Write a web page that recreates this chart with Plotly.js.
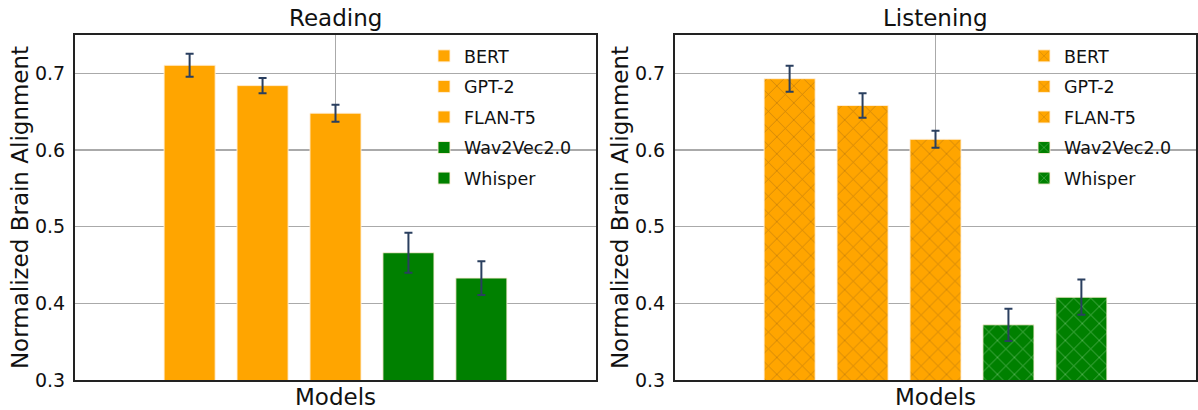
<!DOCTYPE html>
<html>
<head>
<meta charset="utf-8">
<script src="https://cdn.plot.ly/plotly-3.0.1.min.js"></script>
<style>html,body{margin:0;padding:0;background:#fff;}#chart{width:1198px;height:410px;}</style>
</head>
<body>
<div id="chart"></div>
<script>
const models = ['BERT', 'GPT-2', 'FLAN-T5', 'Wav2Vec2.0', 'Whisper'];
const category = ['Models'];
const readingMeans = [0.7105, 0.684, 0.648, 0.466, 0.433];
const readingErr = [0.015, 0.010, 0.011, 0.026, 0.022];
const listeningMeans = [0.693, 0.658, 0.614, 0.372, 0.408];
const listeningErr = [0.017, 0.016, 0.011, 0.021, 0.023];
const barColors = ['#FFA500', '#FFA500', '#FFA500', '#008000', '#008000'];
const hatchColors = ['rgba(150,95,20,0.55)', 'rgba(150,95,20,0.55)', 'rgba(150,95,20,0.55)', 'rgba(140,210,140,0.7)', 'rgba(140,210,140,0.7)'];
const panelTitles = ['Reading', 'Listening'];

const FONT = 'DejaVu Sans, sans-serif';
const traces = [];
models.forEach((m, i) => {
  traces.push({
    type: 'bar', name: m, x: category, y: [readingMeans[i]],
    xaxis: 'x', yaxis: 'y', legend: 'legend', offsetgroup: 'r' + i, legendgroup: 'r' + i,
    marker: {color: barColors[i], line: {color: 'rgba(255,240,220,0.9)', width: 1}},
    error_y: {type: 'data', array: [readingErr[i]], visible: true, color: '#2a3f5f', thickness: 2, width: 4}
  });
});
models.forEach((m, i) => {
  traces.push({
    type: 'bar', name: m, x: category, y: [listeningMeans[i]],
    xaxis: 'x2', yaxis: 'y2', legend: 'legend2', offsetgroup: 'l' + i, legendgroup: 'l' + i,
    marker: {color: barColors[i], line: {color: 'rgba(255,240,220,0.9)', width: 1},
      pattern: {shape: 'x', fgcolor: hatchColors[i], bgcolor: barColors[i], size: 12, solidity: 0.12}},
    error_y: {type: 'data', array: [listeningErr[i]], visible: true, color: '#2a3f5f', thickness: 2, width: 4}
  });
});

const W = 1198, H = 410;
const yDom = [1 - 380 / H, 1 - 35 / H];
function xa(dom, anchor) {
  return {domain: dom, anchor: anchor, type: 'category', range: [-0.5, 0.5],
    showline: true, mirror: true, linecolor: '#222', linewidth: 2,
    showgrid: true, gridcolor: '#aaaaaa', gridwidth: 1.5, showticklabels: false, ticks: '',
    zeroline: false, automargin: false,
    title: {text: 'Models', font: {family: FONT, size: 23, color: '#111'}, standoff: 8}};
}
function ya(anchor) {
  return {domain: yDom, anchor: anchor, range: [0.3, 0.75], dtick: 0.1, tick0: 0.3, tickformat: '.1f',
    showline: true, mirror: true, linecolor: '#222', linewidth: 2,
    showgrid: true, gridcolor: '#aaaaaa', gridwidth: 1.5, zeroline: false, ticks: '',
    ticklabelstandoff: 4, tickfont: {family: FONT, size: 19, color: '#111'}, automargin: false,
    title: {text: 'Normalized Brain Alignment', font: {family: FONT, size: 23, color: '#111'}, standoff: 0}};
}
function leg(x) {
  return {x: x, y: 1 - 38 / H, xanchor: 'left', yanchor: 'top', bgcolor: 'rgba(0,0,0,0)',
    font: {family: FONT, size: 17.5, color: '#111'}, tracegroupgap: 4.8, traceorder: 'grouped'};
}
const layout = {
  width: W, height: H, margin: {l: 0, r: 0, t: 0, b: 0},
  paper_bgcolor: '#fff', plot_bgcolor: '#fff',
  barmode: 'group', bargap: 0.3, bargroupgap: 0.3,
  font: {family: FONT, color: '#111'},
  xaxis: xa([75 / W, 596 / W], 'y'), yaxis: ya('x'),
  xaxis2: xa([675 / W, 1196 / W], 'y2'), yaxis2: ya('x2'),
  legend: leg(424 / W), legend2: leg(1024 / W),
  showlegend: true,
  annotations: [
    {text: panelTitles[0], xref: 'paper', yref: 'paper', x: 335.5 / W, y: 1 - 18 / H, xanchor: 'center', yanchor: 'middle', showarrow: false, font: {family: FONT, size: 23, color: '#111'}},
    {text: panelTitles[1], xref: 'paper', yref: 'paper', x: 935.5 / W, y: 1 - 18 / H, xanchor: 'center', yanchor: 'middle', showarrow: false, font: {family: FONT, size: 23, color: '#111'}}
  ]
};
Plotly.newPlot('chart', traces, layout, {displayModeBar: false, staticPlot: true});
</script>
</body>
</html>
